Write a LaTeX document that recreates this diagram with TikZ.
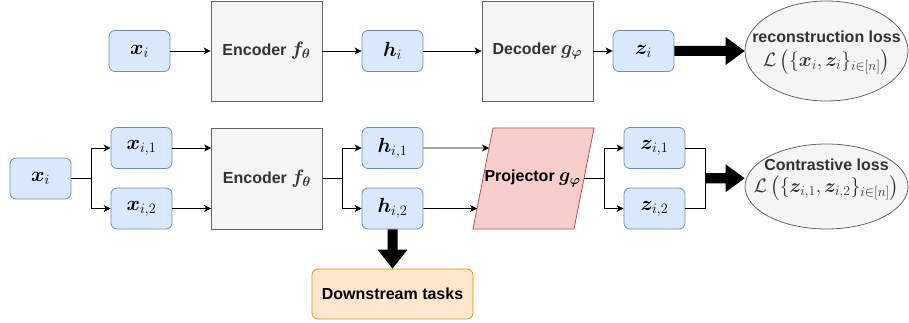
\RequirePackage{fix-cm}
\documentclass[tikz,border=0pt]{standalone}
\usepackage{amsmath,bm}
\usepackage{fontspec}
\setmainfont{Liberation Sans}
\usetikzlibrary{shapes.geometric,arrows.meta,calc}
\definecolor{bluefill}{HTML}{DAE8FC}
\definecolor{bluedraw}{HTML}{6C8EBF}
\definecolor{grayfill}{HTML}{F5F5F5}
\definecolor{graydraw}{HTML}{666666}
\definecolor{graytext}{HTML}{333333}
\definecolor{redfill}{HTML}{F8CECC}
\definecolor{reddraw}{HTML}{B85450}
\definecolor{orangefill}{HTML}{FFE6CC}
\definecolor{orangedraw}{HTML}{D79B00}
\newcommand{\mth}[1]{{\fontsize{19.5}{22}\selectfont$#1$}}
\newcommand{\mvar}[1]{{\fontsize{20.5}{22}\selectfont$#1$}}
\newcommand{\fatarrow}[2]{%
  \fill[black] ($#1+(0,-5)$) -- ($#2+(-19,-5)$) -- ($#2+(-19,-14)$) -- #2
    -- ($#2+(-19,14)$) -- ($#2+(-19,5)$) -- ($#1+(0,5)$) -- cycle;}
\begin{document}
\begin{tikzpicture}[x=1pt,y=-1pt,
  every node/.style={font=\fontsize{16}{22}\selectfont\bfseries},
  var/.style={draw=bluedraw,fill=bluefill,rounded corners=6pt,minimum width=61pt,minimum height=41pt,inner sep=0pt,line width=0.8pt},
  block/.style={draw=graydraw,fill=grayfill,text=graytext,minimum width=111pt,minimum height=100pt,inner sep=0pt,line width=0.8pt},
  loss/.style={ellipse,draw=graydraw,fill=grayfill,minimum width=163pt,inner sep=0pt,line width=0.8pt},
  losstext/.style={text=graytext,align=center,inner sep=0pt},
  projshape/.style={draw=reddraw,fill=redfill,line width=0.8pt},
  task/.style={draw=orangedraw,fill=orangefill,rounded corners=6pt,minimum width=161pt,minimum height=50pt,inner sep=0pt,line width=0.8pt},
  arr/.style={-{Stealth[length=7pt,width=7pt,inset=2pt]},line width=0.8pt},
  conn/.style={line width=0.8pt}]
\useasboundingbox (0,0) rectangle (909,323);
% top row
\node[var] (xa) at (139.5,51) {\mvar{\boldsymbol{x}_i}};
\node[block] (enc1) at (266.5,51) {Encoder \mth{\boldsymbol{f_\theta}}};
\node[var] (ha) at (392.5,51) {\mvar{\boldsymbol{h}_i}};
\node[block] (dec) at (537.5,51) {Decoder \mth{\boldsymbol{g_\varphi}}};
\node[var] (za) at (643.5,51) {\mvar{\boldsymbol{z}_i}};
\node[loss,minimum height=100pt] (l1) at (826.5,51) {};
\node[losstext] (l1t) at ($(l1.center)+(0,1.5)$) {reconstruction loss\\[2pt]\mth{\mathcal{L}\left(\{\boldsymbol{x}_i,\boldsymbol{z}_i\}_{i\in[n]}\right)}};
\draw[arr] (xa.east) -- (enc1.west);
\draw[arr] (enc1.east) -- (ha.west);
\draw[arr] (ha.east) -- (dec.west);
\draw[arr] (dec.east) -- (za.west);
\fatarrow{(za.east)}{(l1.west)}
% bottom row
\node[var] (xb) at (40.5,178.5) {\mvar{\boldsymbol{x}_i}};
\node[var] (x1) at (141.5,148) {\mvar{\boldsymbol{x}_{i,1}}};
\node[var] (x2) at (141.5,208.5) {\mvar{\boldsymbol{x}_{i,2}}};
\node[block,minimum height=101pt] (enc2) at (267,178.5) {Encoder \mth{\boldsymbol{f_\theta}}};
\node[var] (h1) at (392.5,148) {\mvar{\boldsymbol{h}_{i,1}}};
\node[var] (h2) at (392.5,208.5) {\mvar{\boldsymbol{h}_{i,2}}};
% projector parallelogram
\coordinate (ptl) at (493,128);
\coordinate (ptr) at (594,128);
\coordinate (pbr) at (574,229);
\coordinate (pbl) at (473,229);
\draw[projshape] (ptl) -- (ptr) -- (pbr) -- (pbl) -- cycle;
\node[inner sep=0pt] (pr) at (532.5,178.5) {Projector \mth{\boldsymbol{g_\varphi}}};
\coordinate (pright) at ($(ptr)!0.5!(pbr)$);
\node[var] (z1) at (654.5,148) {\mvar{\boldsymbol{z}_{i,1}}};
\node[var] (z2) at (654.5,208.5) {\mvar{\boldsymbol{z}_{i,2}}};
\node[loss,minimum height=85pt] (l2) at (826.5,186.5) {};
\node[losstext] (l2t) at ($(l2.center)+(0,-7)$) {Contrastive loss\\[0pt]\mth{\mathcal{L}\left(\{\boldsymbol{z}_{i,1},\boldsymbol{z}_{i,2}\}_{i\in[n]}\right)}};
\node[task] (down) at (392.5,294) {Downstream tasks};
\draw[arr] (xb.east) -- ++(20,0) |- (x1.west);
\draw[arr] (xb.east) -- ++(20,0) |- (x2.west);
\draw[arr] (x1.east) -- (enc2.west |- x1.east);
\draw[arr] (x2.east) -- (enc2.west |- x2.east);
\draw[arr] (enc2.east) -- ++(19,0) |- (h1.west);
\draw[arr] (enc2.east) -- ++(19,0) |- (h2.west);
\draw[arr] (h1.east) -- ($(ptl)!0.198!(pbl)$);
\draw[arr] (h2.east) -- ($(ptl)!0.797!(pbl)$);
\draw[arr] (pright) -- ++(20,0) |- (z1.west);
\draw[arr] (pright) -- ++(20,0) |- (z2.west);
\draw[conn] (z1.east) -- ++(20,0) |- (z2.east);
\coordinate (jz) at ($($(z1.east)!0.5!(z2.east)$)+(20,0)$);
\coordinate (tip2) at (l2.west |- jz);
\fatarrow{(jz)}{(tip2)}
% downstream fat arrow (vertical)
\fill[black] ($(h2.south)+(-5,0)$) -- ($(down.north)+(-5,-19)$) -- ($(down.north)+(-15,-19)$) -- (down.north)
  -- ($(down.north)+(15,-19)$) -- ($(down.north)+(5,-19)$) -- ($(h2.south)+(5,0)$) -- cycle;
\end{tikzpicture}
\end{document}
